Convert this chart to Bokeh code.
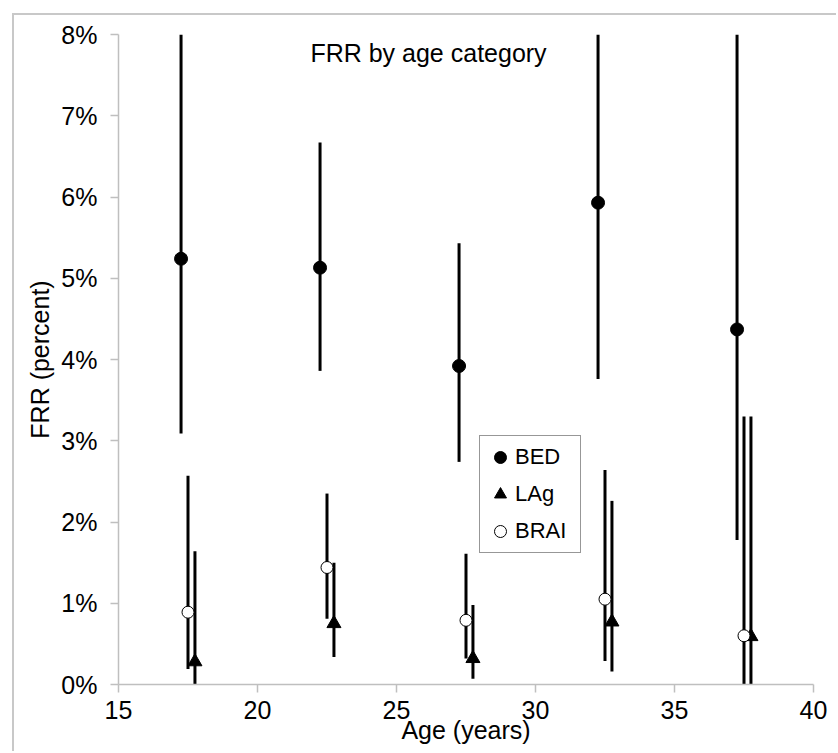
from bokeh.plotting import figure
from bokeh.models import Range1d, FixedTicker, PrintfTickFormatter, Legend, LegendItem, Label
from bokeh.embed import file_html
from bokeh.resources import INLINE

# ---- data (FRR in percent) ----
bed_age = [17.25, 22.25, 27.25, 32.25, 37.25]
bed_val = [5.24, 5.13, 3.92, 5.93, 4.37]
bed_lo = [3.09, 3.86, 2.74, 3.76, 1.78]
bed_hi = [8.0, 6.67, 5.43, 8.0, 8.0]

lag_age = [17.75, 22.75, 27.75, 32.75, 37.75]
lag_val = [0.28, 0.75, 0.32, 0.77, 0.59]
lag_lo = [0.0, 0.34, 0.07, 0.16, 0.0]
lag_hi = [1.64, 1.50, 0.98, 2.26, 3.30]

brai_age = [17.5, 22.5, 27.5, 32.5, 37.5]
brai_val = [0.89, 1.44, 0.79, 1.05, 0.60]
brai_lo = [0.19, 0.81, 0.32, 0.29, 0.0]
brai_hi = [2.57, 2.35, 1.61, 2.64, 3.30]

x_ticks = [15, 20, 25, 30, 35, 40]
y_ticks = [0, 1, 2, 3, 4, 5, 6, 7, 8]

FONT = "Liberation Sans"
GRAY = "#bfbfbf"

p = figure(width=824, height=738, output_backend="svg", toolbar_location=None,
           x_range=Range1d(15, 40), y_range=Range1d(0, 8),
           min_border_left=104, min_border_right=25, min_border_top=19, min_border_bottom=69)
p.styles = {"margin-left": "12px", "margin-top": "13px",
            "border-left": "2px solid #c8c8c8", "border-top": "2px solid #c8c8c8"}
p.outline_line_color = None
p.xgrid.visible = False
p.ygrid.visible = False

for ax in (p.xaxis[0], p.yaxis[0]):
    ax.axis_line_color = GRAY
    ax.axis_line_width = 1.5
    ax.major_tick_line_color = GRAY
    ax.major_tick_line_width = 1.5
    ax.major_tick_in = 0
    ax.major_tick_out = 8
    ax.minor_tick_line_color = None
    ax.major_label_text_font = FONT
    ax.major_label_text_font_size = "25px"
    ax.major_label_text_color = "black"
    ax.axis_label_text_font = FONT
    ax.axis_label_text_font_size = "25px"
    ax.axis_label_text_font_style = "normal"
    ax.axis_label_text_color = "black"

p.xaxis.ticker = FixedTicker(ticks=x_ticks)
p.yaxis.ticker = FixedTicker(ticks=y_ticks)
p.yaxis.formatter = PrintfTickFormatter(format="%d%%")
p.xaxis.axis_label = "Age (years)"
p.yaxis.axis_label = "FRR (percent)"
p.xaxis.major_label_standoff = 8
p.yaxis.major_label_standoff = 13
p.xaxis.axis_label_standoff = -6
p.yaxis.axis_label_standoff = 4

# error bars
for xs, lo, hi in ((bed_age, bed_lo, bed_hi), (lag_age, lag_lo, lag_hi), (brai_age, brai_lo, brai_hi)):
    p.segment(x0=xs, y0=lo, x1=xs, y1=hi, line_color="black", line_width=3)

r_bed = p.scatter(bed_age, bed_val, marker="circle", size=13, fill_color="black", line_color="black")
r_lag = p.scatter(lag_age, lag_val, marker="triangle", size=14, fill_color="black", line_color="black")
r_brai = p.scatter(brai_age, brai_val, marker="circle", size=12, fill_color="white", line_color="black", line_width=1)

legend = Legend(items=[LegendItem(label="BED", renderers=[r_bed]),
                       LegendItem(label="LAg", renderers=[r_lag]),
                       LegendItem(label="BRAI", renderers=[r_brai])],
                location=(361, 131), orientation="vertical")
legend.label_text_font = FONT
legend.label_text_font_size = "22px"
legend.label_text_color = "black"
legend.glyph_width = 30
legend.glyph_height = 32
legend.label_height = 32
legend.label_width = 60
legend.label_standoff = 0
legend.padding = 5
legend.spacing = 5
legend.margin = 0
legend.border_line_color = "#303030"
legend.border_line_width = 1.5
legend.background_fill_alpha = 1
p.add_layout(legend, "center")

title = Label(x=310, y=632, x_units="screen", y_units="screen", text="FRR by age category",
              text_align="center", text_baseline="middle", text_font=FONT, text_font_size="25px",
              text_color="black")
p.add_layout(title)

open("out.html", "w").write(file_html(p, INLINE))
